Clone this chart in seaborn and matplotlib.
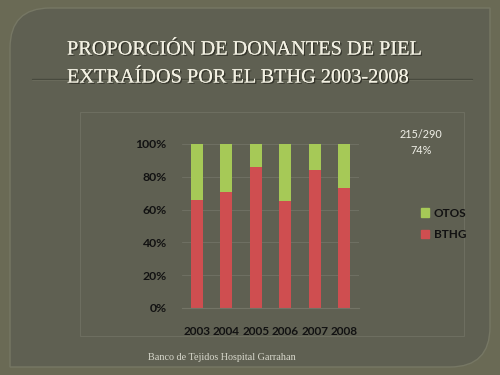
import matplotlib
matplotlib.use("Agg")
import matplotlib.pyplot as plt
import matplotlib.patheffects as pe
from matplotlib.path import Path
from matplotlib.patches import PathPatch, Rectangle, Patch
import pandas as pd
import seaborn as sns

# data
years = ["2003", "2004", "2005", "2006", "2007", "2008"]
bthg = [66, 70.5, 86, 65, 84, 73]
otos = [100 - v for v in bthg]
title_lines = ["PROPORCIÓN DE DONANTES DE PIEL", "EXTRAÍDOS POR EL BTHG 2003-2008"]
note = ["215/290", "74%"]
footer = "Banco de Tejidos Hospital Garrahan"

outer_bg = "#6a6a55"
panel_bg = "#5f6052"
red = "#cf4e50"
green = "#a6c957"

sns.set_style("white")
plt.rcParams["font.family"] = ["Lato", "DejaVu Sans"]

fig = plt.figure(figsize=(5, 3.75), dpi=100, facecolor=outer_bg)

# slide panel with two rounded corners (top-left, bottom-right)
bg = fig.add_axes([0, 0, 1, 1])
bg.set_xlim(0, 500)
bg.set_ylim(375, 0)
bg.axis("off")
x0, x1, y0, y1, r = 10, 490, 8, 367, 40
verts = [(x0 + r, y0), (x1, y0), (x1, y1 - r), (x1, y1), (x1 - r, y1),
         (x0, y1), (x0, y0 + r), (x0, y0), (x0 + r, y0)]
codes = [Path.MOVETO, Path.LINETO, Path.LINETO, Path.CURVE3, Path.CURVE3,
         Path.LINETO, Path.LINETO, Path.CURVE3, Path.CURVE3]
bg.add_patch(PathPatch(Path(verts, codes), facecolor=panel_bg,
                       edgecolor="#767764", lw=1))
# line under title
bg.plot([32, 472], [79, 79], color="#484a3e", lw=1)
bg.plot([32, 472], [80, 80], color="#6c6d5e", lw=0.6)
# chart frame
bg.add_patch(Rectangle((80, 112), 384, 224, fill=False, edgecolor="#6d6e60", lw=0.8))

shadow = [pe.withSimplePatchShadow(offset=(1, -1), shadow_rgbFace="#2a2a22", alpha=0.8), pe.Normal()]
for i, line in enumerate(title_lines):
    bg.text(67, 50 + 28 * i, line, fontsize=14.6, color="#f2f0e2",
            family=["Liberation Serif", "DejaVu Serif"], va="center", ha="left",
            path_effects=shadow)

bg.text(421, 135, note[0], fontsize=7.8, color="#f0f0e8", ha="center", va="center")
bg.text(421, 150, note[1], fontsize=7.8, color="#f0f0e8", ha="center", va="center")
bg.text(148, 358, footer, fontsize=7.3, color="#d8d8cc",
        family=["Liberation Serif", "DejaVu Serif"], va="center", ha="left")

# chart
df = pd.DataFrame({"year": years, "BTHG": bthg, "OTOS": otos})
df["total"] = df["BTHG"] + df["OTOS"]

ax = fig.add_axes([0.364, 0.179, 0.354, 0.437])
ax.set_facecolor("none")
sns.barplot(data=df, x="year", y="total", color=green, width=0.42,
            saturation=1, linewidth=0, ax=ax)
sns.barplot(data=df, x="year", y="BTHG", color=red, width=0.42,
            saturation=1, linewidth=0, ax=ax)
ax.set_ylim(0, 100)
ax.set_yticks([0, 20, 40, 60, 80, 100])
ax.set_yticklabels([f"{t}%" for t in [0, 20, 40, 60, 80, 100]])
ax.set_xlabel("")
ax.set_ylabel("")
ax.set_axisbelow(True)
ax.grid(axis="y", color="#6e6f62", lw=0.8)
for s in ["top", "right", "left"]:
    ax.spines[s].set_visible(False)
ax.spines["bottom"].set_color("#737466")
ax.tick_params(axis="y", length=0, pad=11, labelsize=8.8)
ax.tick_params(axis="x", length=0, pad=13, labelsize=8.5)
for lbl in ax.get_yticklabels() + ax.get_xticklabels():
    lbl.set_fontweight("bold")
    lbl.set_color("#121212")

handles = [Patch(color=green, label="OTOS"), Patch(color=red, label="BTHG")]
fig.legend(handles=handles, loc="center left", bbox_to_anchor=(410 / 500, 1 - 224 / 375),
           frameon=False, handlelength=0.7, handleheight=0.7, handletextpad=0.4,
           labelspacing=0.9, prop={"size": 8.5, "weight": "bold"}, labelcolor="#121212")

fig.savefig("out.png", dpi=100, facecolor=outer_bg)
